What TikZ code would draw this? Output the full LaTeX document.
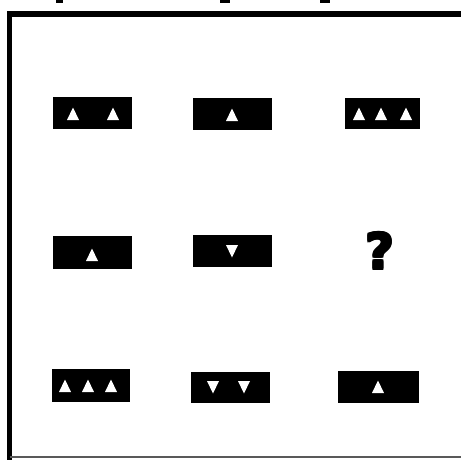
\documentclass[tikz,border=0pt]{standalone}
\usepackage{fontspec}
\newfontfamily\qfont{DejaVu Sans}
\begin{document}
\begin{tikzpicture}[x=1pt,y=-1pt,
  cell/.style={fill=black,draw=none},
  tri/.style={fill=white,draw=none},
  framestroke/.style={line width=5.5pt,black},
  qmark/.style={font=\qfont\bfseries\fontsize{50}{50}\selectfont,inner sep=0pt}]
\useasboundingbox (0,0) rectangle (461,459);
\fill[white] (0,0) rectangle (461,459);
% cut-off marks at top edge
\fill (56,0) rectangle (63,2.5);
\fill (220,0) rectangle (230,2.5);
\fill (320,0) rectangle (330,2.5);
% frame (left, top, bottom)
\draw[framestroke] (9.5,461) -- (9.5,14) -- (462,14);
\draw[gray!70!black,line width=1.5pt] (9.5,457) -- (462,457);
% boxes
\newcommand{\up}[2]{\fill[tri] (#1-6,#2+6) -- (#1+6,#2+6) -- (#1,#2-6.5) -- cycle;}
\newcommand{\dn}[2]{\fill[tri] (#1-6,#2-6) -- (#1+6,#2-6) -- (#1,#2+6.5) -- cycle;}
% row 1
\path[cell] (53,97) rectangle (132,129) coordinate (b11);
\up{73}{114}\up{113}{114}
\path[cell] (193,98) rectangle (272,130) coordinate (b12);
\up{232}{115}
\path[cell] (345,98) rectangle (420,129) coordinate (b13);
\up{359}{114}\up{381}{114}\up{406}{114}
% row 2
\path[cell] (53,236) rectangle (132,269) coordinate (b21);
\up{92}{255}
\path[cell] (193,235) rectangle (272,267) coordinate (b22);
\dn{232}{251}
\foreach \dx/\dy in {-1/0,1/0,0/-1,0/1,-0.7/-0.7,0.7/0.7,-0.7/0.7,0.7/-0.7}
  \node[qmark] at (380+\dx,251+\dy) {?};
\node[qmark] (q) at (380,251) {?};
% row 3
\path[cell] (52,369) rectangle (130,402) coordinate (b31);
\up{65}{386}\up{88}{386}\up{111}{386}
\path[cell] (191,372) rectangle (270,403) coordinate (b32);
\dn{213}{387}\dn{244}{387}
\path[cell] (338,371) rectangle (419,403) coordinate (b33);
\up{378}{387}
\end{tikzpicture}
\end{document}
